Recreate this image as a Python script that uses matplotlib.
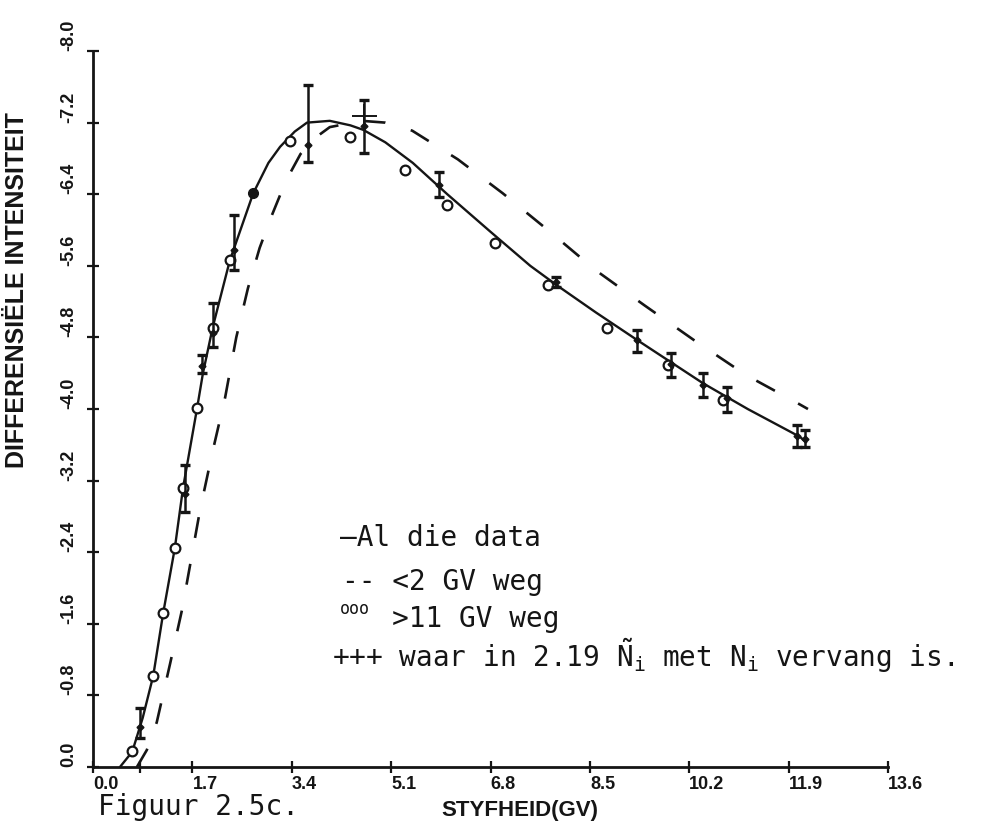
import matplotlib
matplotlib.use("Agg")
import matplotlib.pyplot as plt
import numpy as np

# solid curve: al die data
curve_x = [0.46, 0.67, 0.85, 1.03, 1.20, 1.40, 1.54, 1.78, 1.88, 2.05, 2.34, 2.74, 3.00,
           3.20, 3.45, 3.66, 4.05, 4.40, 4.62, 5.00, 5.47, 6.06, 6.80, 7.48, 7.94, 8.60,
           9.31, 10.43, 11.20, 12.09, 12.20]
curve_y = [0.00, 0.17, 0.55, 1.02, 1.72, 2.45, 3.12, 4.01, 4.40, 4.92, 5.66, 6.41, 6.75,
           6.93, 7.10, 7.20, 7.22, 7.17, 7.12, 6.98, 6.75, 6.40, 5.98, 5.60, 5.38, 5.08,
           4.77, 4.29, 4.00, 3.69, 3.63]

# dashed curve: <2 GV weg
dash_x = [0.75, 0.92, 1.09, 1.32, 1.52, 1.83, 2.04, 2.26, 2.45, 2.65, 2.85, 3.05, 3.30,
          3.55, 3.80, 4.05, 4.60, 5.00, 5.46, 6.24, 7.01, 7.78, 8.60, 9.43, 10.28, 11.17,
          12.04, 12.23]
dash_y = [0.00, 0.19, 0.50, 1.16, 1.75, 2.87, 3.51, 4.13, 4.80, 5.35, 5.80, 6.15, 6.55,
          6.85, 7.03, 7.15, 7.22, 7.20, 7.11, 6.79, 6.41, 6.00, 5.55, 5.16, 4.77, 4.38,
          4.07, 4.00]

# open circles: >11 GV weg
circ_x = [0.67, 1.03, 1.20, 1.40, 1.54, 1.78, 2.05, 2.34, 3.37, 4.40, 5.34, 6.06, 6.88,
          7.78, 8.79, 9.84, 10.78]
circ_y = [0.18, 1.02, 1.72, 2.45, 3.12, 4.01, 4.91, 5.66, 7.00, 7.04, 6.67, 6.28, 5.85,
          5.39, 4.91, 4.49, 4.10]
dot_x = [2.74]
dot_y = [6.41]

# data points with error bars
err_x = [0.80, 1.57, 1.86, 2.05, 2.41, 3.68, 4.64, 5.92, 7.92, 9.31, 9.89, 10.43, 10.85,
         12.04, 12.18]
err_y = [0.45, 3.05, 4.48, 4.85, 5.78, 6.95, 7.16, 6.50, 5.42, 4.77, 4.50, 4.27, 4.12,
         3.70, 3.66]
err_lo = [0.32, 2.85, 4.40, 4.69, 5.55, 6.76, 6.86, 6.37, 5.36, 4.64, 4.36, 4.13, 3.97,
          3.58, 3.58]
err_hi = [0.66, 3.37, 4.60, 5.18, 6.17, 7.62, 7.45, 6.65, 5.47, 4.88, 4.63, 4.40, 4.25,
          3.82, 3.77]

# +++ points
plus_x = [4.64]
plus_y = [7.27]

xticks = [0.0, 1.7, 3.4, 5.1, 6.8, 8.5, 10.2, 11.9, 13.6]
xtick_labels = ["0.0", "1.7", "3.4", "5.1", "6.8", "8.5", "10.2", "11.9", "13.6"]
yticks = [0.0, 0.8, 1.6, 2.4, 3.2, 4.0, 4.8, 5.6, 6.4, 7.2, 8.0]
ytick_labels = ["0.0", "-0.8", "-1.6", "-2.4", "-3.2", "-4.0", "-4.8", "-5.6", "-6.4",
                "-7.2", "-8.0"]

INK = "#151515"
SANS = "Liberation Sans"
MONO = "DejaVu Sans Mono"

plt.rcParams["mathtext.fontset"] = "custom"
plt.rcParams["mathtext.rm"] = MONO
plt.rcParams["mathtext.it"] = MONO
plt.rcParams["mathtext.bf"] = MONO

fig = plt.figure(figsize=(10.08, 8.23), dpi=100)
ax = fig.add_axes([0.0923, 0.068, 0.7887, 0.870])
ax.set_xlim(0, 13.6)
ax.set_ylim(0, 8.0)

ax.plot(curve_x, curve_y, color=INK, lw=1.7, solid_capstyle="round")
ax.plot(dash_x, dash_y, color=INK, lw=1.9, dashes=(8, 10))
ax.plot(circ_x, circ_y, ls="none", marker="o", ms=7, mfc="white", mec=INK, mew=1.6)
ax.plot(dot_x, dot_y, ls="none", marker="o", ms=7, color=INK)
yerr = [np.subtract(err_y, err_lo), np.subtract(err_hi, err_y)]
ax.errorbar(err_x, err_y, yerr=yerr, fmt="D", ms=3.5, color=INK, ecolor=INK,
            elinewidth=1.8, capsize=3.5, capthick=2.4)
ax.plot(plus_x, plus_y, ls="none", marker="+", ms=18, mew=1.4, color=INK)

for side in ["top", "right"]:
    ax.spines[side].set_visible(False)
for side in ["left", "bottom"]:
    ax.spines[side].set_linewidth(2.0)
    ax.spines[side].set_color(INK)

ax.set_xticks(xticks, xtick_labels)
ax.set_yticks(yticks, ytick_labels)
ax.set_xticks([0.8], minor=True)
ax.tick_params(which="both", direction="inout", length=9, width=1.6, color=INK)
ax.tick_params(axis="x", pad=2)
ax.tick_params(axis="y", pad=7)
plt.setp(ax.get_xticklabels(), ha="left", fontsize=13, fontweight="bold",
         family=SANS, color=INK)
plt.setp(ax.get_yticklabels(), rotation=90, va="bottom", ha="right", fontsize=13,
         fontweight="bold", family=SANS, color=INK)

ax.set_xlabel("STYFHEID(GV)", fontsize=16, fontweight="bold", family=SANS, color=INK)
ax.xaxis.set_label_coords(0.537, -0.046)
ax.set_ylabel("DIFFERENSIËLE INTENSITEIT", fontsize=18, fontweight="bold",
              family=SANS, color=INK)
ax.yaxis.set_label_coords(-0.081, 0.666)

# typed legend
def px(x, y):
    return x / 1008, 1 - y / 823

fs = 20
fig.text(*px(340, 538), "\u2014Al die data", fontsize=fs, family=MONO, color=INK,
         va="center")
fig.text(*px(342, 582), "-- <2 GV weg", fontsize=fs, family=MONO, color=INK,
         va="center")
fig.text(*px(340, 609), "ooo", fontsize=12, family=MONO, color=INK, va="center")
fig.text(*px(392, 619), ">11 GV weg", fontsize=fs, family=MONO, color=INK,
         va="center")
fig.text(*px(332, 656),
         r"+++ waar in 2.19 $\tilde{\mathrm{N}}_{\mathrm{i}}$ met $\mathrm{N}_{\mathrm{i}}$ vervang is.",
         fontsize=fs, family=MONO, color=INK, va="center")

fig.text(*px(98, 815), "Figuur 2.5c.", fontsize=fs, family=MONO, color=INK,
         va="baseline")

fig.savefig("out.png", dpi=100, facecolor="white")
